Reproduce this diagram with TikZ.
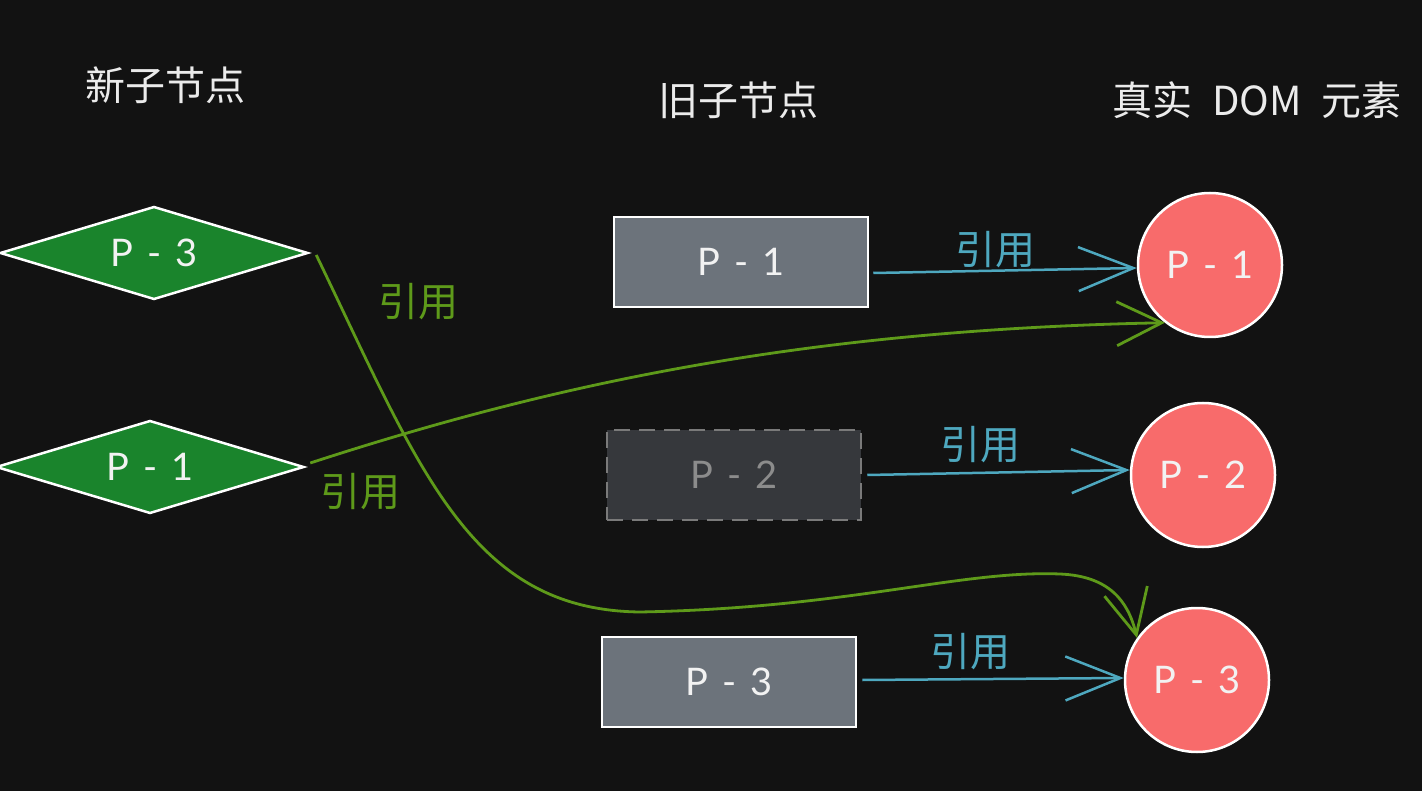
\documentclass[tikz,border=0pt]{standalone}
\usepackage{fontspec}
\setmainfont{Lato}
\newfontfamily\cjk{Noto Sans CJK SC}
\usetikzlibrary{shapes.geometric,arrows.meta}
\definecolor{bgc}{HTML}{121212}
\definecolor{dgreen}{HTML}{1A842C}
\definecolor{rgray}{HTML}{6C737B}
\definecolor{rdark}{HTML}{36383C}
\definecolor{rdash}{HTML}{7A7A7A}
\definecolor{cred}{HTML}{F86B6B}
\definecolor{lblue}{HTML}{4EA8BF}
\definecolor{lgreen}{HTML}{5E9A1A}
\definecolor{ptext}{HTML}{8C8C8C}
\newcommand{\pname}[1]{P\hspace{14pt}-\hspace{14pt}#1}
\tikzset{
  title/.style={text=white!92!black, font=\cjk\fontsize{40}{44}\selectfont, inner sep=0pt},
  lab/.style={font=\fontsize{38}{40}\selectfont, text=white!95!black},
  newnode/.style={shape=diamond, draw=white, line width=2.5pt, fill=dgreen, aspect=3.3,
    minimum width=308pt, minimum height=93pt, inner sep=0pt, lab},
  oldnode/.style={rectangle, draw=white, line width=2.5pt, fill=rgray,
    minimum width=254pt, minimum height=90pt, inner sep=0pt, lab},
  gonenode/.style={rectangle, draw=rdash, dash pattern=on 16pt off 9pt, line width=2.5pt, fill=rdark,
    minimum width=254pt, minimum height=90pt, inner sep=0pt, lab, text=ptext},
  domnode/.style={circle, draw=white, line width=2.5pt, fill=cred, minimum size=144pt, inner sep=0pt, lab},
  bluearrow/.style={draw=lblue, line width=2.5pt, -{Straight Barb[length=55pt,width=44pt]}},
  greenarrow/.style={draw=lgreen, line width=2.8pt, -{Straight Barb[length=45pt,width=44pt]}},
  bluelab/.style={text=lblue, font=\cjk\fontsize{40}{44}\selectfont, inner sep=0pt},
  greenlab/.style={text=lgreen, font=\cjk\fontsize{40}{44}\selectfont, inner sep=0pt},
}
\begin{document}
\begin{tikzpicture}[x=1pt,y=-1pt]
\fill[bgc] (0,0) rectangle (1422,791);
\useasboundingbox (0,0) rectangle (1422,791);

% titles
\node[title] (tNew) at (165,85) {新子节点};
\node[title] (tOld) at (738,100) {旧子节点};
\node[title] (tDom) at (1257,100) {真实\hspace{20pt}DOM\hspace{20pt}元素};

% new children
\node[newnode] (n3) at (154,253) {\pname{3}};
\node[newnode] (n1) at (150,467) {\pname{1}};

% old children
\node[oldnode] (o1) at (741,262) {\pname{1}};
\node[gonenode] (o2) at (734,475) {\pname{2}};
\node[oldnode] (o3) at (729,682) {\pname{3}};

% real DOM
\node[domnode] (d1) at (1210,265) {\pname{1}};
\node[domnode] (d2) at (1203,475) {\pname{2}};
\node[domnode] (d3) at (1197,680) {\pname{3}};

% blue references
\draw[bluearrow] (o1.east) ++(4,11) coordinate (b1s) -- (d1.west |- 0,268);
\draw[bluearrow] (o2.east) ++(5,0) coordinate (b2s) -- (d2.west |- 0,470);
\draw[bluearrow] (o3.east) ++(5,-2) coordinate (b3s) -- (d3.west |- 0,678);
\node[bluelab] (bl1) at (995,250) {引用};
\node[bluelab] (bl2) at (980,445) {引用};
\node[bluelab] (bl3) at (970,652) {引用};

% green references
\draw[greenarrow] (n1.east) ++(5,-4) coordinate (g1s)
  .. controls (550,385) and (800,330) .. (d1.232);
\draw[greenarrow] (n3.east) ++(7,2) coordinate (g2s)
  .. controls (420,470) and (470,610) .. (640,612)
  .. controls (850,608) and (960,570) .. (1060,574)
  .. controls (1108,576) and (1128,600) .. (d3.145);
\node[greenlab] (gl1) at (418,302) {引用};
\node[greenlab] (gl2) at (360,492) {引用};
\end{tikzpicture}
\end{document}
